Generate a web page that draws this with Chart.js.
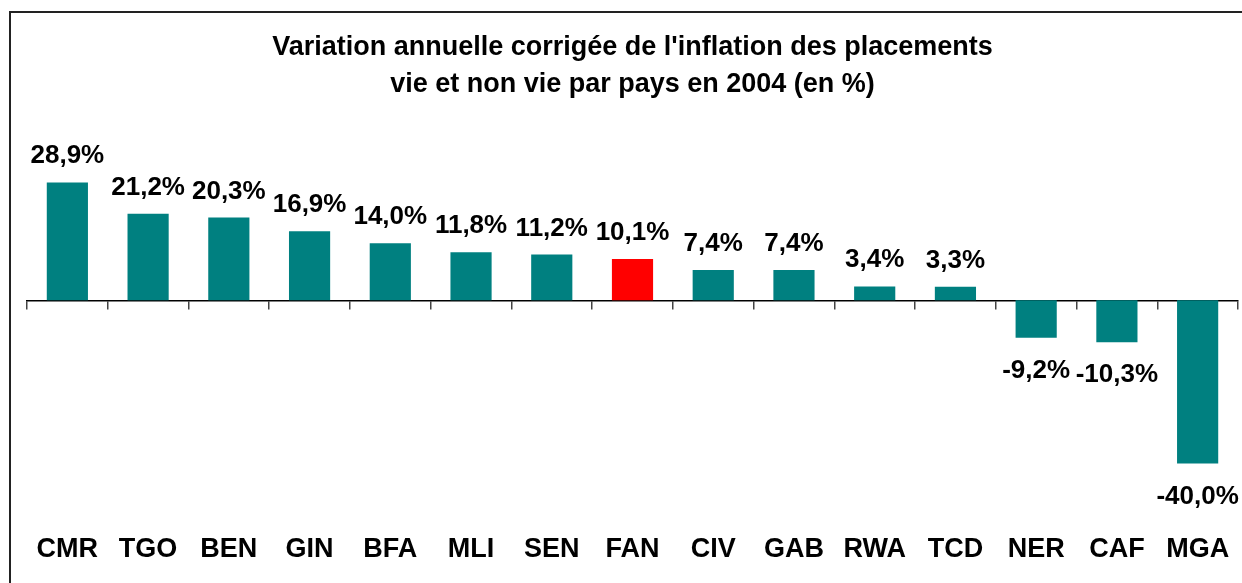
<!DOCTYPE html>
<html>
<head>
<meta charset="utf-8">
<script src="https://cdn.jsdelivr.net/npm/chart.js@4/dist/chart.umd.min.js"></script>
<style>
  html, body { margin: 0; padding: 0; background: #fff; }
  #wrap { width: 1242px; height: 583px; }
</style>
</head>
<body>
<div id="wrap"><canvas id="placementsChart" width="1242" height="583"></canvas></div>
<script>
const pays = ["CMR", "TGO", "BEN", "GIN", "BFA", "MLI", "SEN", "FAN", "CIV", "GAB", "RWA", "TCD", "NER", "CAF", "MGA"];
const variation = [28.9, 21.2, 20.3, 16.9, 14.0, 11.8, 11.2, 10.1, 7.4, 7.4, 3.4, 3.3, -9.2, -10.3, -40.0];
const titre = ["Variation annuelle corrigée de l'inflation des placements", "vie et non vie par pays en 2004 (en %)"];

const teal = '#008080';
const rouge = '#ff0000';
const couleurs = pays.map(p => p === 'FAN' ? rouge : teal);

const police = '"Liberation Sans", Arial, sans-serif';
const fmt = v => v.toFixed(1).replace('.', ',') + '%';

// cadre du graphique (bords gauche et haut)
const cadre = {
    id: 'cadre',
    beforeDraw(chart) {
        const ctx = chart.ctx;
        ctx.save();
        ctx.fillStyle = '#fff';
        ctx.fillRect(0, 0, chart.width, chart.height);
        ctx.strokeStyle = '#222';
        ctx.lineWidth = 2;
        ctx.beginPath();
        ctx.moveTo(10, chart.height + 5);
        ctx.lineTo(10, 12);
        ctx.lineTo(chart.width + 5, 12);
        ctx.stroke();
        ctx.restore();
    }
};

// valeurs au-dessus / en dessous des barres
const etiquettes = {
    id: 'etiquettes',
    afterDatasetsDraw(chart) {
        const ctx = chart.ctx;
        const meta = chart.getDatasetMeta(0);
        ctx.save();
        ctx.font = 'bold 26px ' + police;
        ctx.fillStyle = '#000';
        ctx.textAlign = 'center';
        meta.data.forEach((bar, i) => {
            const v = variation[i];
            if (v >= 0) {
                ctx.textBaseline = 'alphabetic';
                ctx.fillText(fmt(v), bar.x, bar.y - 19);
            } else {
                ctx.textBaseline = 'top';
                ctx.fillText(fmt(v), bar.x, bar.y + 20);
            }
        });
        ctx.restore();
    }
};

new Chart(document.getElementById('placementsChart'), {
    type: 'bar',
    data: {
        labels: pays,
        datasets: [{
            data: variation,
            backgroundColor: couleurs,
            borderWidth: 0,
            categoryPercentage: 1,
            barPercentage: 0.51
        }]
    },
    options: {
        responsive: false,
        animation: false,
        layout: { padding: { top: 12, left: 27, right: 4, bottom: 17 } },
        plugins: {
            legend: { display: false },
            tooltip: { enabled: false },
            title: {
                display: true,
                text: titre,
                color: '#000',
                font: { family: police, size: 27, weight: 'bold', lineHeight: 1.37 },
                padding: { top: 17, bottom: 35 }
            }
        },
        scales: {
            y: {
                display: false,
                min: -50.1,
                max: 39.8
            },
            x: {
                position: 'bottom',
                // graduations invisibles : elles servent d'écart entre l'axe et les noms de pays
                grid: {
                    display: true,
                    drawOnChartArea: false,
                    drawTicks: true,
                    tickLength: 29,
                    color: 'rgba(0,0,0,0)'
                },
                border: { display: false },
                ticks: {
                    color: '#000',
                    padding: 0,
                    maxRotation: 0,
                    font: { family: police, size: 27, weight: 'bold' }
                }
            },
            // axe du zéro avec graduations entre les pays
            x2: {
                type: 'category',
                position: { y: 0 },
                offset: true,
                ticks: { display: false },
                grid: {
                    offset: true,
                    drawOnChartArea: false,
                    drawTicks: true,
                    tickLength: 8,
                    color: '#444',
                    lineWidth: 1.5
                },
                border: { display: true, color: '#000', width: 1.5 }
            }
        }
    },
    plugins: [cadre, etiquettes]
});
</script>
</body>
</html>
